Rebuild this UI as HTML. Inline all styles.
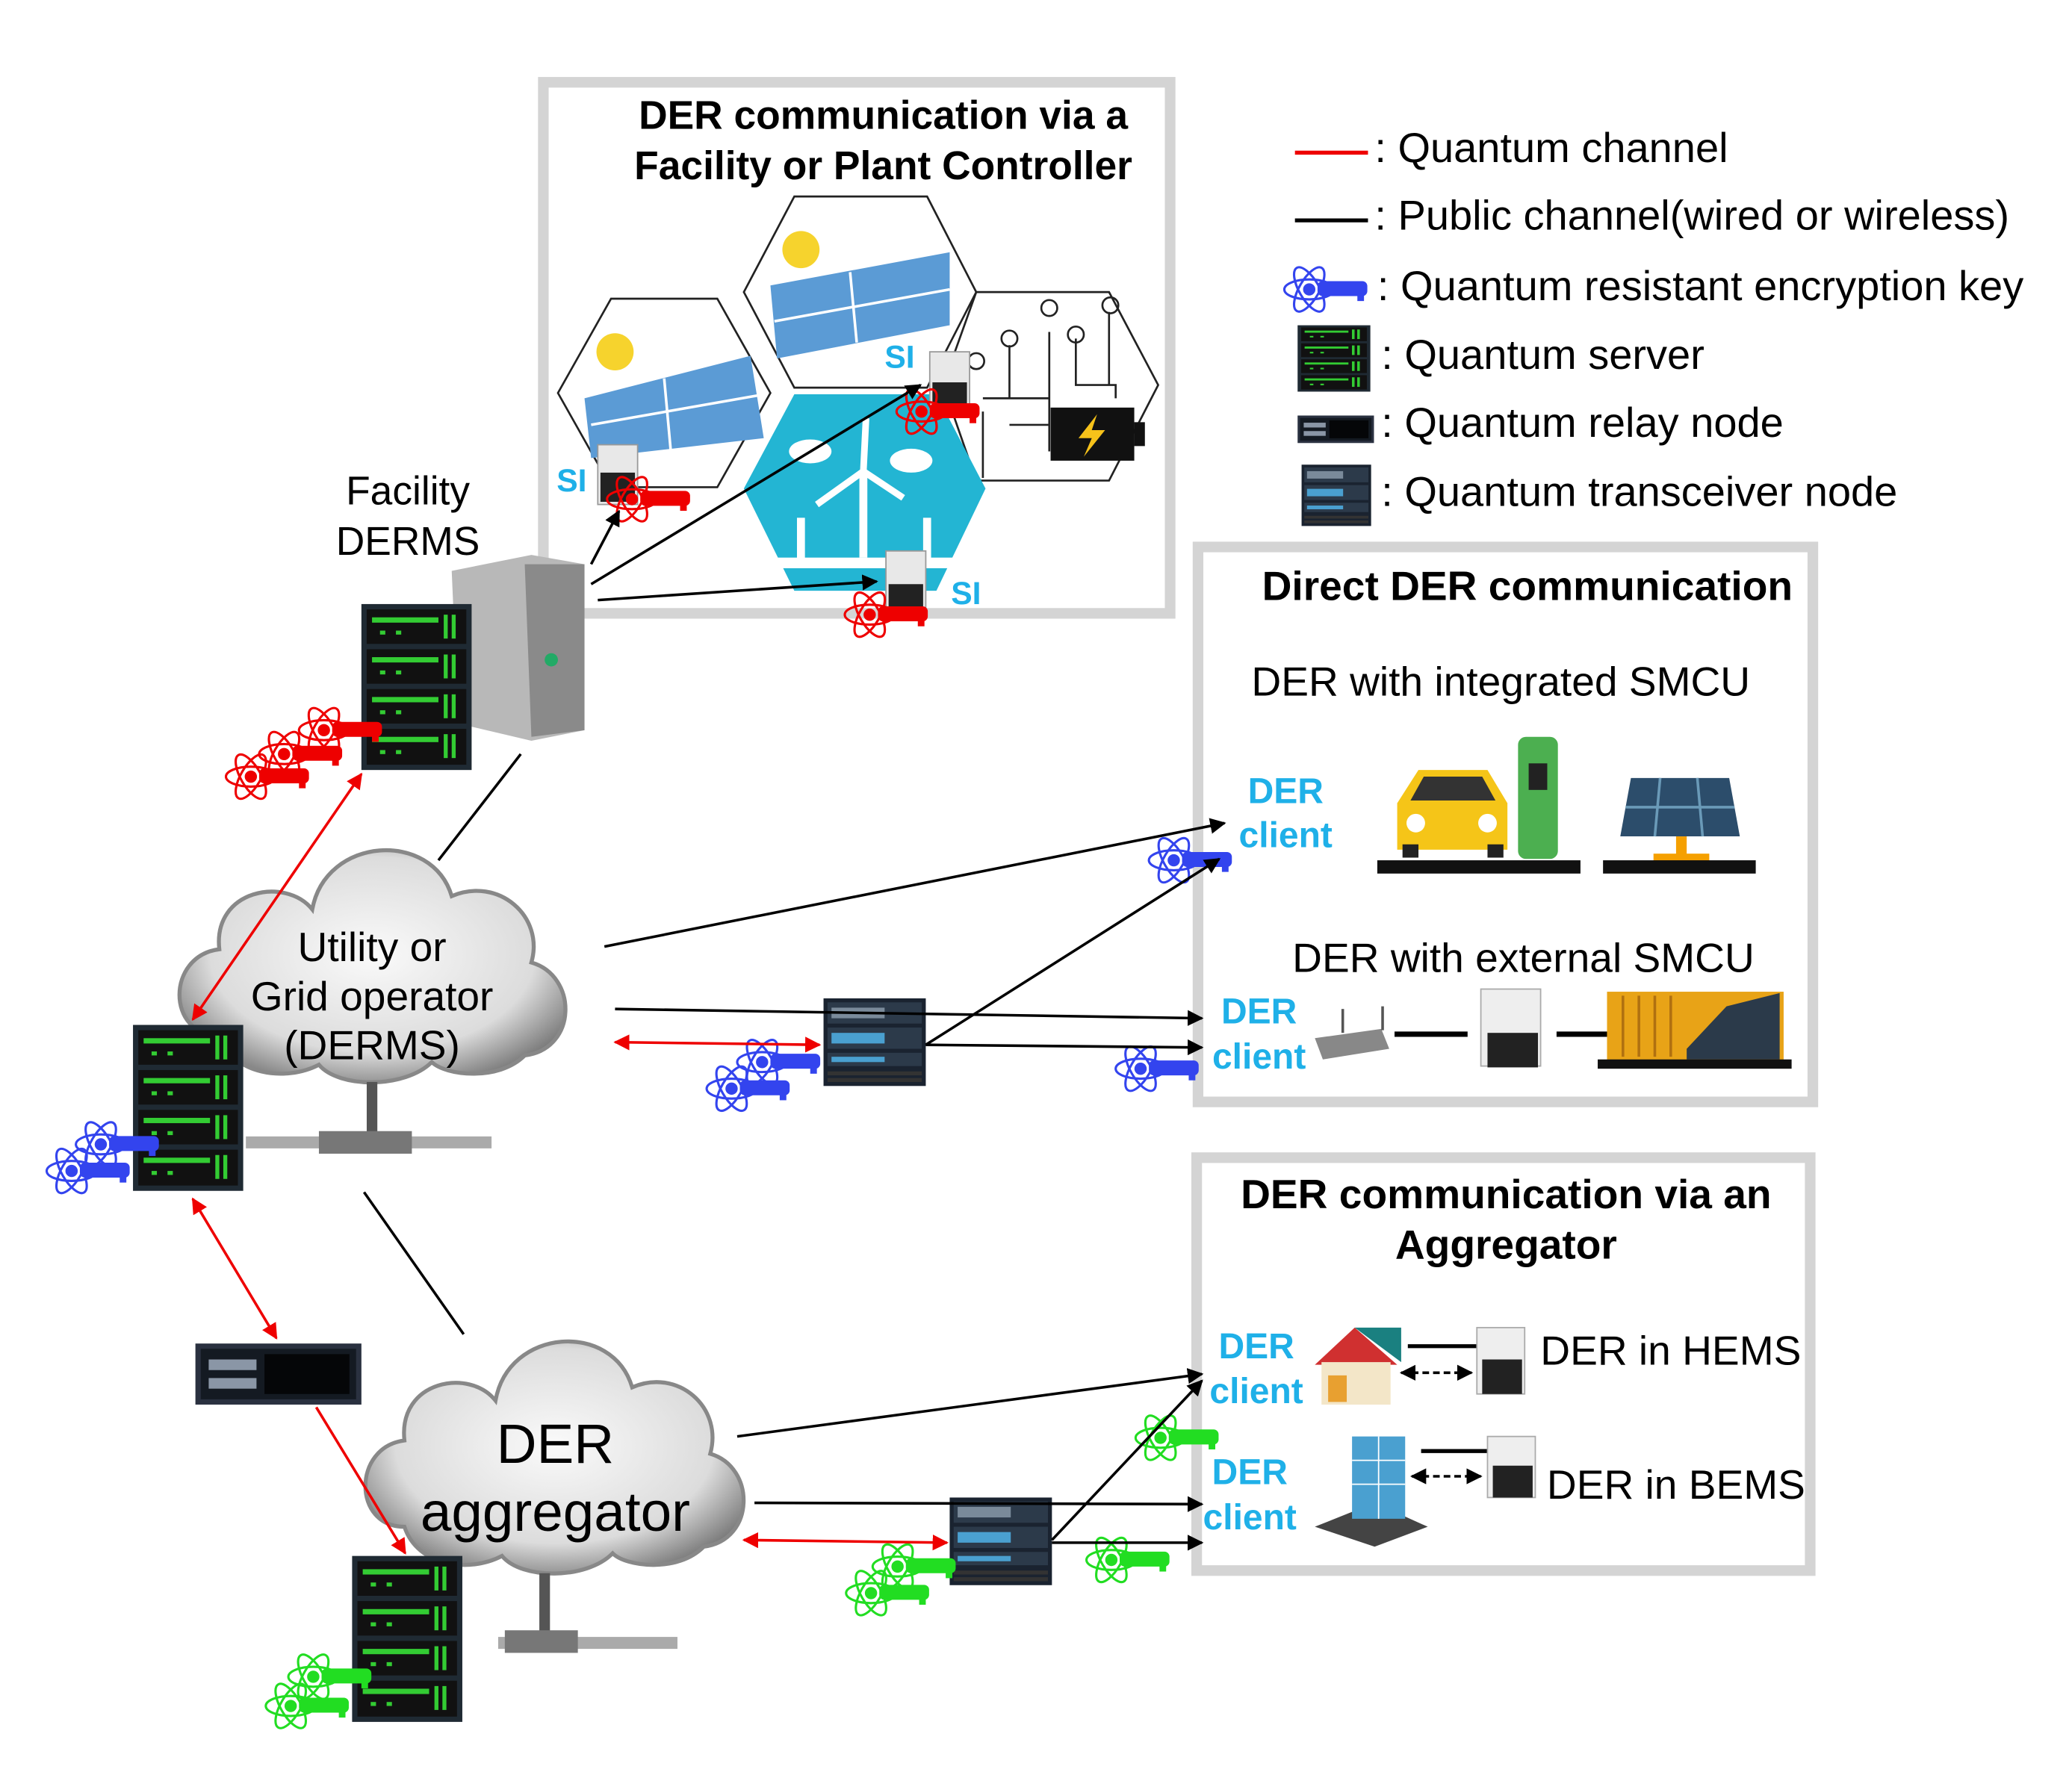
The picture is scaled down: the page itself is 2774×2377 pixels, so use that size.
<!DOCTYPE html>
<html><head><meta charset="utf-8"><style>html,body{margin:0;padding:0;background:#fff}svg{display:block}</style></head><body>
<svg width="2774" height="2377" viewBox="0 0 1560 1337" xmlns="http://www.w3.org/2000/svg" font-family="Liberation Sans, DejaVu Sans, sans-serif">
<defs>
<marker id="ab" viewBox="0 0 10 10" refX="9" refY="5" markerWidth="6" markerHeight="6" orient="auto-start-reverse"><path d="M0,0L10,5L0,10z" fill="#000"/></marker>
<marker id="ar" viewBox="0 0 10 10" refX="9" refY="5" markerWidth="6" markerHeight="6" orient="auto-start-reverse"><path d="M0,0L10,5L0,10z" fill="#e00"/></marker>
<radialGradient id="cg" cx="50%" cy="45%" r="60%"><stop offset="0" stop-color="#fafafa"/><stop offset="0.7" stop-color="#dcdcdc"/><stop offset="1" stop-color="#7a7a7a"/></radialGradient>
<g id="key0" fill="none" stroke="currentColor" stroke-width="1.4">
<ellipse cx="15" cy="20" rx="15" ry="6"/><ellipse cx="15" cy="20" rx="15" ry="6" transform="rotate(60 15 20)"/><ellipse cx="15" cy="20" rx="15" ry="6" transform="rotate(-60 15 20)"/>
<circle cx="15" cy="20" r="3" fill="currentColor"/>
<rect x="20" y="15" width="30" height="9" rx="3" fill="currentColor" stroke="none"/><rect x="44" y="22" width="4" height="5" fill="currentColor" stroke="none"/>
</g>
<g id="key"><use href="#key0" transform="translate(-5,-5) scale(1.25)"/></g>
<g id="srv">
<rect x="0" y="0" width="83" height="125" fill="#1f2a33"/>
<g fill="#111"><rect x="4" y="4" width="75" height="26"/><rect x="4" y="34" width="75" height="26"/><rect x="4" y="64" width="75" height="26"/><rect x="4" y="94" width="75" height="27"/></g>
<g fill="#3c3">
<rect x="8" y="10" width="50" height="4"/><rect x="62" y="8" width="3" height="18"/><rect x="68" y="8" width="3" height="18"/><rect x="14" y="20" width="4" height="3"/><rect x="26" y="20" width="4" height="3"/>
<rect x="8" y="40" width="50" height="4"/><rect x="62" y="38" width="3" height="18"/><rect x="68" y="38" width="3" height="18"/><rect x="14" y="50" width="4" height="3"/><rect x="26" y="50" width="4" height="3"/>
<rect x="8" y="70" width="50" height="4"/><rect x="62" y="68" width="3" height="18"/><rect x="68" y="68" width="3" height="18"/><rect x="14" y="80" width="4" height="3"/><rect x="26" y="80" width="4" height="3"/>
<rect x="8" y="100" width="50" height="4"/><rect x="62" y="98" width="3" height="18"/><rect x="68" y="98" width="3" height="18"/><rect x="14" y="110" width="4" height="3"/><rect x="26" y="110" width="4" height="3"/>
</g></g>
<g id="trx">
<rect x="0" y="0" width="77" height="66" fill="#1a2330"/>
<rect x="3" y="3" width="71" height="16" fill="#2c3a4a"/><rect x="3" y="22" width="71" height="16" fill="#2c3a4a"/><rect x="3" y="41" width="71" height="10" fill="#2c3a4a"/>
<rect x="6" y="7" width="40" height="8" fill="#7a8a9a"/><rect x="6" y="26" width="40" height="8" fill="#4aa0d0"/><rect x="6" y="44" width="40" height="4" fill="#4aa0d0"/>
<rect x="3" y="55" width="71" height="3" fill="#333"/><rect x="3" y="60" width="71" height="3" fill="#333"/>
</g>
<g id="relay"><rect x="0" y="0" width="125" height="46" fill="#2a3140"/><rect x="4" y="4" width="117" height="38" fill="#141a22"/><rect x="10" y="12" width="36" height="8" fill="#8a96a6"/><rect x="10" y="26" width="36" height="8" fill="#8a96a6"/><rect x="52" y="8" width="64" height="30" fill="#050608"/></g>
<g id="cloud"><path d="M30,150 C-10,150 -10,90 30,85 C25,40 80,30 100,55 C110,0 190,-5 205,45 C240,30 275,60 265,95 C300,105 300,160 260,165 C240,185 200,180 190,170 C170,190 120,190 105,172 C80,185 40,180 30,150Z" fill="url(#cg)" stroke="#888" stroke-width="3"/></g>
</defs>

<!-- Box 1 -->
<rect x="409" y="62" width="472" height="400" fill="#fff" stroke="#d4d4d4" stroke-width="8"/>
<text x="665" y="97" font-size="30" font-weight="bold" text-anchor="middle">DER communication via a</text>
<text x="665" y="135" font-size="30" font-weight="bold" text-anchor="middle">Facility or Plant Controller</text>
<polygon points="460,225 540,225 580,296 540,367 460,367 420,296" fill="#fff" stroke="#222" stroke-width="1.5"/>
<polygon points="598,148 698,148 735,220 698,292 598,292 560,220" fill="#fff" stroke="#222" stroke-width="1.5"/>
<polygon points="735,220 835,220 872,290 835,362 735,362 710,290" fill="#fff" stroke="#222" stroke-width="1.5"/>
<polygon points="598,297 705,297 742,368 705,445 598,445 560,368" fill="#23b5d3"/>
<circle cx="463" cy="265" r="14" fill="#f6d32d"/><circle cx="603" cy="188" r="14" fill="#f6d32d"/>
<g fill="#5b9bd5"><polygon points="440,300 565,268 575,330 445,345"/><polygon points="580,215 715,190 715,245 585,270"/></g>
<g stroke="#fff" stroke-width="2"><line x1="445" y1="320" x2="570" y2="298"/><line x1="500" y1="285" x2="505" y2="340"/><line x1="583" y1="242" x2="715" y2="218"/><line x1="640" y1="205" x2="645" y2="258"/></g>
<g stroke="#fff" stroke-width="6"><line x1="650" y1="420" x2="650" y2="355"/><line x1="603" y1="425" x2="603" y2="390"/><line x1="698" y1="425" x2="698" y2="390"/></g>
<g stroke="#fff" stroke-width="5"><line x1="650" y1="355" x2="615" y2="380"/><line x1="650" y1="355" x2="680" y2="375"/><line x1="650" y1="355" x2="652" y2="315"/></g>
<ellipse cx="610" cy="340" rx="16" ry="9" fill="#fff"/><ellipse cx="686" cy="347" rx="16" ry="9" fill="#fff"/>
<rect x="570" y="420" width="160" height="8" fill="#fff"/>
<g fill="none" stroke="#222" stroke-width="1.5"><path d="M740,300 H790 V340 M760,260 V300 M790,250 V300 M810,255 V290 H840 V300 M835,235 V290 M760,320 H790 M740,310 V360"/><circle cx="760" cy="255" r="6"/><circle cx="790" cy="232" r="6"/><circle cx="810" cy="252" r="6"/><circle cx="836" cy="230" r="6"/><circle cx="735" cy="272" r="6"/></g>
<rect x="791" y="307" width="63" height="40" fill="#111"/><rect x="854" y="318" width="8" height="18" fill="#111"/><path d="M826,312 L812,330 H822 L816,344 L832,324 H822Z" fill="#f6c21a"/>
<rect x="450" y="335" width="30" height="45" fill="#e8e8e8" stroke="#999"/><rect x="452" y="356" width="26" height="22" fill="#222"/>
<rect x="700" y="265" width="30" height="45" fill="#e8e8e8" stroke="#999"/><rect x="702" y="288" width="26" height="20" fill="#222"/>
<rect x="667" y="415" width="30" height="48" fill="#e8e8e8" stroke="#999"/><rect x="669" y="440" width="26" height="20" fill="#222"/>
<g fill="#1fb0e8" font-weight="bold" font-size="24"><text x="419" y="370">SI</text><text x="666" y="277">SI</text><text x="716" y="455">SI</text></g>
<use href="#key" x="462" y="356" style="color:#e00"/>
<use href="#key" x="680" y="290" style="color:#e00"/>
<use href="#key" x="641" y="443" style="color:#e00"/>

<!-- Legend -->
<line x1="975" y1="115" x2="1030" y2="115" stroke="#e00" stroke-width="3"/>
<text x="1035" y="122" font-size="31.5">: Quantum channel</text>
<line x1="975" y1="166" x2="1030" y2="166" stroke="#000" stroke-width="3"/>
<text x="1035" y="173" font-size="31.5">: Public channel(wired or wireless)</text>
<use href="#key" x="972" y="198" style="color:#3344ee"/>
<text x="1037" y="226" font-size="31.5">: Quantum resistant encryption key</text>
<use href="#srv" transform="translate(977,245) scale(0.66,0.4)"/>
<text x="1040" y="278" font-size="31.5">: Quantum server</text>
<use href="#relay" transform="translate(977,313) scale(0.46,0.45)"/>
<text x="1040" y="329" font-size="31.5">: Quantum relay node</text>
<use href="#trx" transform="translate(980,350) scale(0.68,0.7)"/>
<text x="1040" y="381" font-size="31.5">: Quantum transceiver node</text>

<!-- Box 2 -->
<rect x="902" y="412" width="463" height="418" fill="#fff" stroke="#d4d4d4" stroke-width="8"/>
<text x="1150" y="452" font-size="31" font-weight="bold" text-anchor="middle">Direct DER communication</text>
<text x="1130" y="524" font-size="31" text-anchor="middle">DER with integrated SMCU</text>
<g fill="#1fb0e8" font-weight="bold" font-size="27" text-anchor="middle"><text x="968" y="605">DER</text><text x="968" y="638">client</text><text x="948" y="771">DER</text><text x="948" y="805">client</text></g>
<path d="M1052,640 L1052,605 L1068,580 H1120 L1135,605 V640Z" fill="#f5c518"/><path d="M1072,585 H1116 L1126,603 H1062Z" fill="#333"/>
<circle cx="1066" cy="620" r="7" fill="#fff"/><circle cx="1120" cy="620" r="7" fill="#fff"/><rect x="1056" y="636" width="12" height="10" fill="#222"/><rect x="1120" y="636" width="12" height="10" fill="#222"/>
<rect x="1143" y="555" width="30" height="92" rx="6" fill="#4caf50"/><rect x="1151" y="575" width="14" height="20" fill="#222"/>
<rect x="1037" y="648" width="153" height="10" fill="#111"/>
<polygon points="1228,586 1302,586 1310,630 1220,630" fill="#2c4d6b"/><g stroke="#6a9ab8" stroke-width="2"><line x1="1250" y1="586" x2="1246" y2="630"/><line x1="1278" y1="586" x2="1282" y2="630"/><line x1="1224" y1="608" x2="1306" y2="608"/></g>
<rect x="1262" y="630" width="8" height="14" fill="#f5a000"/><rect x="1245" y="643" width="42" height="6" fill="#f5a000"/>
<rect x="1207" y="648" width="115" height="10" fill="#111"/>
<text x="1147" y="732" font-size="31" text-anchor="middle">DER with external SMCU</text>
<polygon points="990,782 1040,775 1046,790 996,798" fill="#888"/><rect x="1010" y="760" width="2" height="18" fill="#555"/><rect x="1040" y="758" width="2" height="18" fill="#555"/>
<line x1="1050" y1="779" x2="1105" y2="779" stroke="#000" stroke-width="4"/>
<rect x="1115" y="745" width="45" height="58" fill="#eee" stroke="#aaa"/><rect x="1120" y="778" width="38" height="26" fill="#222"/>
<line x1="1172" y1="779" x2="1210" y2="779" stroke="#000" stroke-width="4"/>
<rect x="1210" y="747" width="133" height="52" fill="#e8a317"/><g stroke="#b07010" stroke-width="2"><line x1="1222" y1="750" x2="1222" y2="796"/><line x1="1234" y1="750" x2="1234" y2="796"/><line x1="1246" y1="750" x2="1246" y2="796"/><line x1="1258" y1="750" x2="1258" y2="796"/></g>
<polygon points="1270,790 1300,758 1340,748 1340,798 1270,798" fill="#2b3a4a"/>
<rect x="1203" y="798" width="146" height="7" fill="#111"/>

<!-- Box 3 -->
<rect x="901" y="872" width="462" height="311" fill="#fff" stroke="#d4d4d4" stroke-width="8"/>
<text x="1134" y="910" font-size="31" font-weight="bold" text-anchor="middle">DER communication via an</text>
<text x="1134" y="948" font-size="31" font-weight="bold" text-anchor="middle">Aggregator</text>
<g fill="#1fb0e8" font-weight="bold" font-size="27" text-anchor="middle"><text x="946" y="1023">DER</text><text x="946" y="1057">client</text><text x="941" y="1118">DER</text><text x="941" y="1152">client</text></g>
<polygon points="990,1028 1020,1000 1052,1028" fill="#d03030"/><rect x="995" y="1026" width="52" height="32" fill="#f3e6c8"/><rect x="1000" y="1036" width="14" height="20" fill="#e8a030"/>
<polygon points="1020,1000 1055,1000 1055,1026" fill="#1a8080"/>
<line x1="1055" y1="1034" x2="1108" y2="1034" stroke="#000" stroke-width="2" stroke-dasharray="5,3" marker-start="url(#ab)" marker-end="url(#ab)"/>
<line x1="1060" y1="1014" x2="1112" y2="1014" stroke="#000" stroke-width="3"/>
<rect x="1112" y="1000" width="36" height="50" fill="#eee" stroke="#aaa"/><rect x="1116" y="1024" width="30" height="26" fill="#222"/>
<text x="1258" y="1028" font-size="31" text-anchor="middle">DER in HEMS</text>
<polygon points="990,1150 1035,1132 1075,1150 1035,1165" fill="#444"/><rect x="1018" y="1082" width="40" height="62" fill="#4aa0d0"/><g stroke="#fff"><line x1="1018" y1="1100" x2="1058" y2="1100"/><line x1="1018" y1="1118" x2="1058" y2="1118"/><line x1="1038" y1="1082" x2="1038" y2="1144"/></g>
<line x1="1063" y1="1112" x2="1115" y2="1112" stroke="#000" stroke-width="2" stroke-dasharray="5,3" marker-start="url(#ab)" marker-end="url(#ab)"/>
<line x1="1070" y1="1093" x2="1120" y2="1093" stroke="#000" stroke-width="3"/>
<rect x="1120" y="1082" width="36" height="46" fill="#eee" stroke="#aaa"/><rect x="1124" y="1104" width="30" height="24" fill="#222"/>
<text x="1262" y="1129" font-size="31" text-anchor="middle">DER in BEMS</text>

<!-- Facility DERMS -->
<text x="307" y="380" font-size="30" text-anchor="middle">Facility</text>
<text x="307" y="418" font-size="30" text-anchor="middle">DERMS</text>
<path d="M340,430 L400,418 L440,425 V550 L400,558 L345,545Z" fill="#b8b8b8"/><path d="M395,425 L440,425 V550 L400,555Z" fill="#8a8a8a"/><circle cx="415" cy="497" r="5" fill="#2a6"/>
<use href="#srv" x="272" y="455"/>
<use href="#key" x="230" y="530" style="color:#e00"/><use href="#key" x="200" y="548" style="color:#e00"/><use href="#key" x="175" y="565" style="color:#e00"/>

<!-- Utility cloud -->
<use href="#cloud" transform="translate(135,630)"/>
<text x="280" y="724" font-size="31" text-anchor="middle">Utility or</text>
<text x="280" y="761" font-size="31" text-anchor="middle">Grid operator</text>
<text x="280" y="798" font-size="31" text-anchor="middle">(DERMS)</text>
<rect x="276" y="815" width="8" height="42" fill="#555"/><rect x="185" y="856" width="185" height="9" fill="#aaa"/><rect x="240" y="852" width="70" height="17" fill="#777"/>
<use href="#srv" x="100" y="772"/>
<use href="#key" x="62" y="842" style="color:#3344ee"/><use href="#key" x="40" y="862" style="color:#3344ee"/>

<use href="#relay" x="147" y="1012"/>

<!-- Aggregator cloud -->
<use href="#cloud" transform="translate(275,1000) scale(0.98,1.0)"/>
<text x="418" y="1102" font-size="42" text-anchor="middle">DER</text>
<text x="418" y="1153" font-size="42" text-anchor="middle">aggregator</text>
<rect x="406" y="1185" width="8" height="45" fill="#555"/><rect x="375" y="1233" width="135" height="9" fill="#aaa"/><rect x="380" y="1228" width="55" height="17" fill="#777"/>
<use href="#srv" x="265" y="1172"/>
<use href="#key" x="222" y="1243" style="color:#22dd22"/><use href="#key" x="205" y="1265" style="color:#22dd22"/>

<use href="#trx" x="620" y="752"/>
<use href="#trx" x="715" y="1128"/>
<use href="#key" x="560" y="780" style="color:#3344ee"/><use href="#key" x="537" y="800" style="color:#3344ee"/>
<use href="#key" x="870" y="628" style="color:#3344ee"/><use href="#key" x="845" y="785" style="color:#3344ee"/>
<use href="#key" x="662" y="1160" style="color:#22dd22"/><use href="#key" x="642" y="1180" style="color:#22dd22"/>
<use href="#key" x="860" y="1063" style="color:#22dd22"/><use href="#key" x="823" y="1155" style="color:#22dd22"/>

<g stroke="#000" stroke-width="2" fill="none">
<line x1="330" y1="648" x2="392" y2="568"/>
<line x1="445" y1="425" x2="466" y2="385" marker-end="url(#ab)"/>
<line x1="445" y1="440" x2="693" y2="290" marker-end="url(#ab)"/>
<line x1="450" y1="452" x2="660" y2="438" marker-end="url(#ab)"/>
<line x1="455" y1="713" x2="922" y2="620" marker-end="url(#ab)"/>
<line x1="697" y1="787" x2="918" y2="647" marker-end="url(#ab)"/>
<line x1="463" y1="760" x2="905" y2="767" marker-end="url(#ab)"/>
<line x1="697" y1="787" x2="905" y2="789" marker-end="url(#ab)"/>
<line x1="274" y1="898" x2="349" y2="1005"/>
<line x1="555" y1="1082" x2="905" y2="1035" marker-end="url(#ab)"/>
<line x1="568" y1="1132" x2="905" y2="1133" marker-end="url(#ab)"/>
<line x1="792" y1="1160" x2="905" y2="1040" marker-end="url(#ab)"/>
<line x1="792" y1="1162" x2="905" y2="1162" marker-end="url(#ab)"/>
</g>
<g stroke="#e00" stroke-width="2" fill="none">
<line x1="145" y1="768" x2="272" y2="583" marker-start="url(#ar)" marker-end="url(#ar)"/>
<line x1="463" y1="785" x2="617" y2="787" marker-start="url(#ar)" marker-end="url(#ar)"/>
<line x1="145" y1="903" x2="208" y2="1008" marker-start="url(#ar)" marker-end="url(#ar)"/>
<line x1="238" y1="1060" x2="305" y2="1170" marker-end="url(#ar)"/>
<line x1="560" y1="1160" x2="713" y2="1162" marker-start="url(#ar)" marker-end="url(#ar)"/>
</g>
</svg>
</body></html>
